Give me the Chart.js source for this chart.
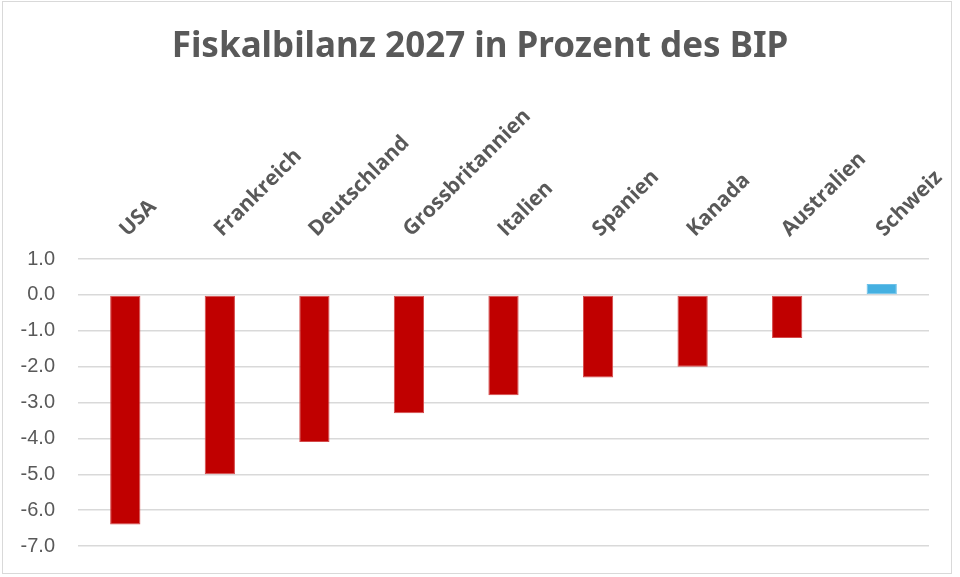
<!DOCTYPE html>
<html>
<head>
<meta charset="utf-8">
<script src="https://cdn.jsdelivr.net/npm/chart.js@4"></script>
<style>
  html, body { margin: 0; padding: 0; background: #fff; }
  #wrap { position: relative; width: 960px; height: 577px; }
  #frame { position: absolute; left: 2px; top: 1px; width: 948px; height: 571px; border: 1.5px solid #d9d9d9; pointer-events: none; }
  canvas { position: absolute; left: 0; top: 0; }
</style>
</head>
<body>
<div id="wrap">
  <canvas id="chart" width="960" height="577"></canvas>
  <div id="frame"></div>
</div>
<script>
// Fiskalbilanz 2027 in % des BIP
const countries = ['USA', 'Frankreich', 'Deutschland', 'Grossbritannien', 'Italien', 'Spanien', 'Kanada', 'Australien', 'Schweiz'];
const balance   = [-6.4, -5.0, -4.1, -3.3, -2.8, -2.3, -2.0, -1.2, 0.3];

const RED  = '#C00000';
const BLUE = '#45B0E1';
const TEXT = '#595959';

new Chart(document.getElementById('chart'), {
  type: 'bar',
  data: {
    labels: countries,
    datasets: [{
      data: balance,
      backgroundColor: balance.map(v => v < 0 ? RED : BLUE),
      borderColor: balance.map(v => v < 0 ? '#D44A4A' : '#6CC0E8'),
      borderWidth: 1,
      borderSkipped: false,
      categoryPercentage: 1,
      barPercentage: 0.32,
    }],
  },
  options: {
    responsive: false, animation: false,
    layout: { padding: { left: 0, right: 0, top: 0, bottom: 31 } },
    plugins: {
      legend: { display: false },
      tooltip: { enabled: false },
      title: {
        display: true,
        text: 'Fiskalbilanz 2027 in Prozent des BIP',
        color: TEXT,
        font: { family: 'Noto Sans', size: 35, weight: 'bold' },
        padding: { top: 26, bottom: 0 },
      },
    },
    scales: {
      x: {
        position: 'top',
        // fixed band for the rotated labels, plot area ends at x = 929
        afterFit: s => { s.height = 191; s.paddingLeft = 0; s.paddingRight = 31; },
        grid: { display: false },
        border: { display: false },
        ticks: {
          color: TEXT, minRotation: 45, maxRotation: 45, padding: 9, labelOffset: 16,
          font: { family: 'Open Sans', size: 21, weight: 'bold' },
        },
      },
      y: {
        min: -7, max: 1,
        afterFit: s => { s.width = 78; s.paddingTop = 0; s.paddingBottom = 0; },
        grid: { color: '#d9d9d9', lineWidth: 1.5, drawTicks: false },
        border: { display: false },
        ticks: {
          stepSize: 1, padding: 23, color: TEXT,
          font: { family: 'Liberation Sans', size: 20 },
          callback: v => v.toFixed(1),
        },
      },
    },
  },
});
</script>
</body>
</html>
